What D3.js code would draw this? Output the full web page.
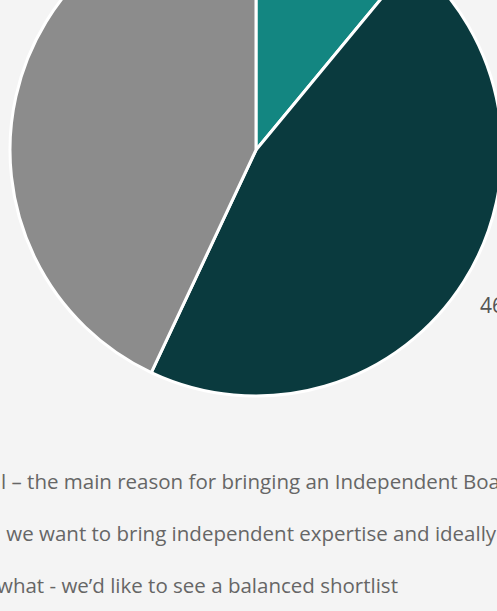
<!DOCTYPE html>
<html>
<head>
<meta charset="utf-8">
<script src="https://cdn.jsdelivr.net/npm/d3@7"></script>
<style>
  html, body { margin: 0; padding: 0; background: #f4f4f4; overflow: hidden; }
  text { font-family: "Open Sans", sans-serif; }
</style>
</head>
<body>
<div id="root"></div>
<script>
// slices, clockwise from 12 o'clock
const categories = ["Essential", "Important", "Somewhat"];
const shares = [11, 46, 43];
const colors = ["#138681", "#0a3a3e", "#8c8c8c"];

// legend lines (left part is outside the picture)
const legendLabels = [
  "l \u2013 the main reason for bringing an Independent Board",
  " we want to bring independent expertise and ideally",
  "what - we\u2019d like to see a balanced shortlist"
];
const legendX = [1, 1, -3];

let width = 497;
let height = 611;

const svg = d3.select("#root")
  .append("svg")
  .attr("width", width)
  .attr("height", height);

const cx = 256;
const cy = 150;
const radius = 246;

const data = categories.map((c, i) => ({ name: c, value: shares[i], color: colors[i] }));

const pie = d3.pie().sort(null).value((d) => d.value);
const arc = d3.arc().innerRadius(0).outerRadius(radius);
const labelArc = d3.arc().innerRadius(radius + 30).outerRadius(radius + 30);

const g = svg.append("g").attr("transform", `translate(${cx},${cy})`);

g.selectAll("path")
  .data(pie(data))
  .join("path")
  .attr("d", arc)
  .attr("fill", (d) => d.data.color)
  .attr("stroke", "#ffffff")
  .attr("stroke-width", 3)
  .attr("stroke-linejoin", "round");

// percentage labels
g.selectAll("text.pct")
  .data(pie(data))
  .join("text")
  .attr("class", "pct")
  .attr("transform", (d) => {
    const [x, y] = labelArc.centroid(d);
    return `translate(${x},${y})`;
  })
  .attr("text-anchor", (d) => ((d.startAngle + d.endAngle) / 2 < Math.PI ? "start" : "end"))
  .attr("dx", -9)
  .attr("dy", "0.72em")
  .attr("fill", "#555555")
  .style("font-size", "21px")
  .text((d) => d.data.value + "%");

// legend
svg.append("g")
  .selectAll("text")
  .data(legendLabels)
  .join("text")
  .attr("x", (d, i) => legendX[i])
  .attr("y", (d, i) => 489 + i * 52)
  .attr("fill", "#666666")
  .style("font-size", "20.5px")
  .style("white-space", "pre")
  .text((d) => d);
</script>
</body>
</html>
